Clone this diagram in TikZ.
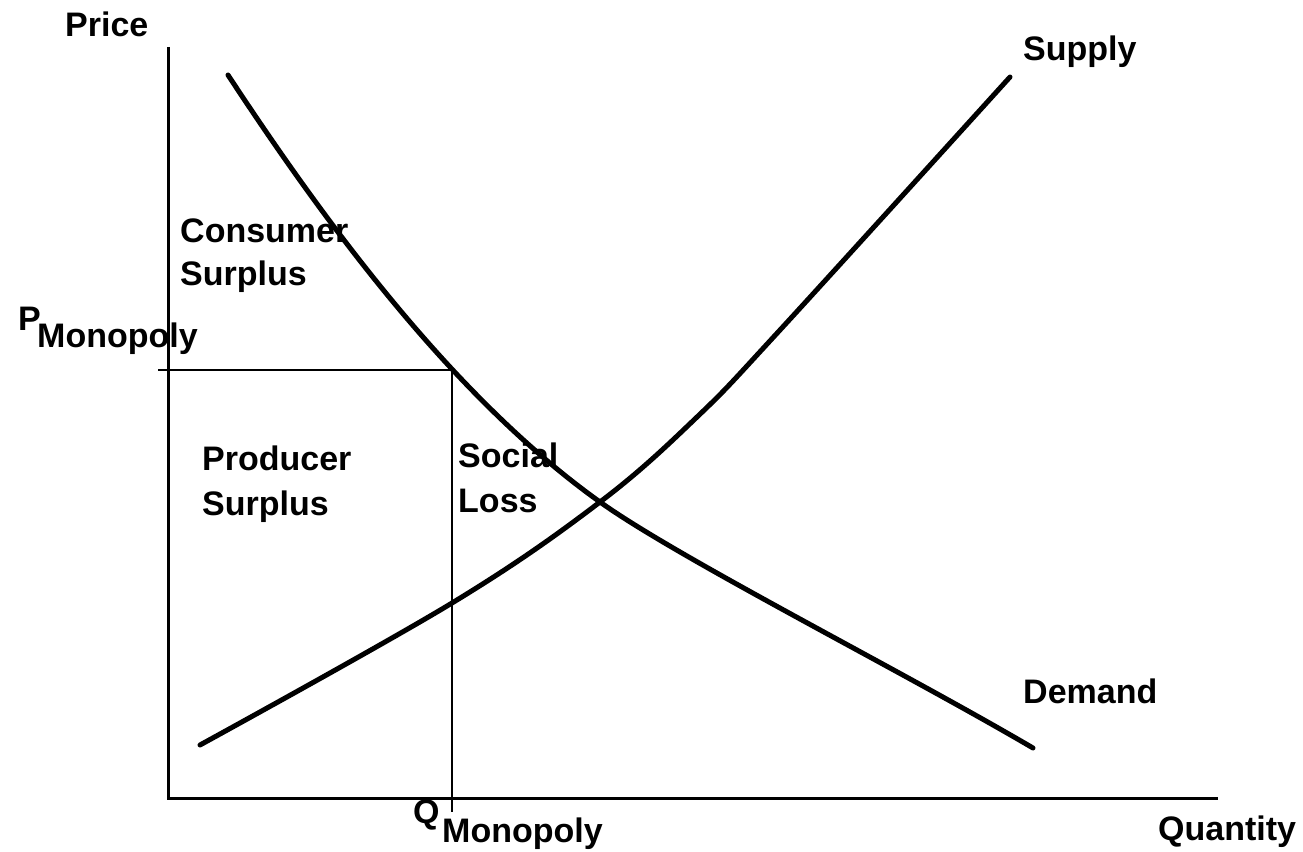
\documentclass[tikz,border=0pt]{standalone}
\usepackage{fontspec}
\setmainfont{Liberation Sans}
\begin{document}
\begin{tikzpicture}[x=1pt,y=-1pt,
  lbl/.style={anchor=base west,inner sep=0pt,font=\fontsize{34}{44}\selectfont\bfseries},
  axis/.style={line width=3pt},
  guide/.style={line width=1.6pt},
  curve/.style={line width=5pt,line cap=round,line join=round}]
\useasboundingbox[fill=white] (0,0) rectangle (1303,851);
% axes
\coordinate (ytop) at (168,47);
\coordinate (origin) at (168,798);
\coordinate (xend) at (1218,798);
\draw[axis] (ytop) -- (origin) -- (xend);
% monopoly guides
\coordinate (pleft) at (158,370);
\coordinate (mono) at (452,370);
\coordinate (qbot) at (452,812);
\draw[guide] (pleft) -- (mono) -- (qbot);
% demand
\coordinate (dstart) at (228,75);
\coordinate (eq) at (600,502);
\coordinate (dend) at (1033,748);
\draw[curve] (dstart) .. controls (320,215) and (450,395) .. (eq)
  .. controls (680,559) and (900,670) .. (dend);
% supply
\draw[curve] plot[smooth,tension=0.6] coordinates {(200,745) (452,603) (600,502) (697,417) (780,330) (1010,77)};
% labels
\node[lbl] (price) at (65,37) {Price};
\node[lbl] (supply) at (1023,60) {Supply};
\node[lbl] (demand) at (1023,703) {Demand};
\node[lbl] (quantity) at (1158,840) {Quantity};
\node[lbl] (cs1) at (180,242) {Consumer};
\node[lbl] (cs2) at (180,285) {Surplus};
\node[lbl] (pP) at (18,330) {P};
\node[lbl] (pM) at (37,347) {Monopoly};
\node[lbl] (ps1) at (202,470) {Producer};
\node[lbl] (ps2) at (202,515) {Surplus};
\node[lbl] (sl1) at (458,467) {Social};
\node[lbl] (sl2) at (458,512) {Loss};
\node[lbl] (qQ) at (413,823) {Q};
\node[lbl] (qM) at (442,842) {Monopoly};
\end{tikzpicture}
\end{document}
